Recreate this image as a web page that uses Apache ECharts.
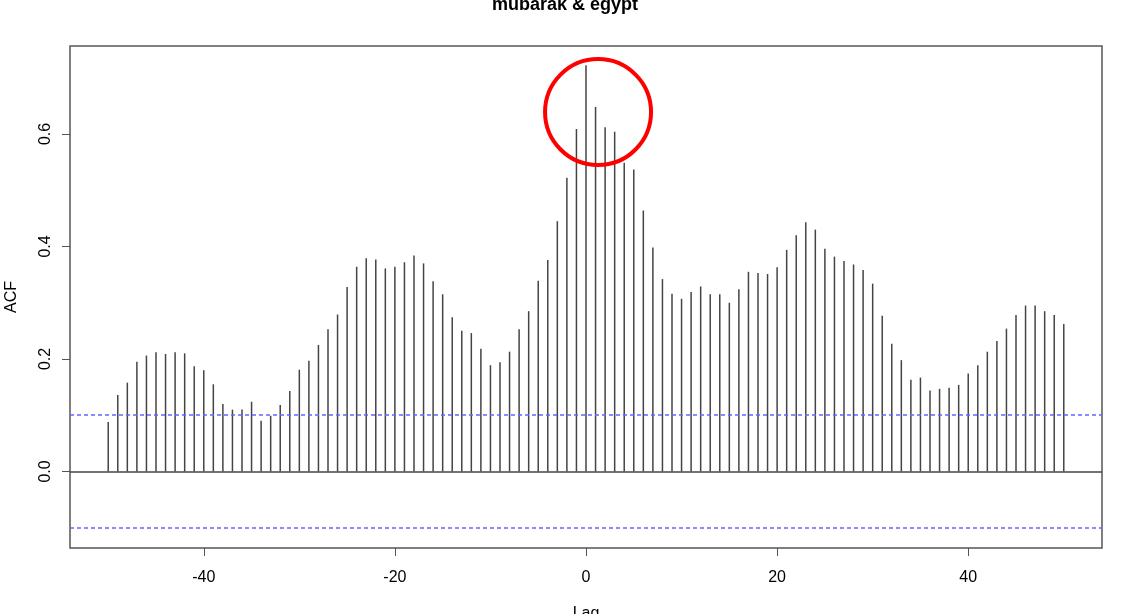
<!DOCTYPE html>
<html>
<head>
<meta charset="utf-8">
<script src="https://cdn.jsdelivr.net/npm/echarts@6/dist/echarts.min.js"></script>
<style>html,body{margin:0;padding:0;background:#fff}#c{width:1130px;height:614px}</style>
</head>
<body>
<div id="c"></div>
<script>
const lags = [];
for (let k = -50; k <= 50; k++) lags.push(k);
const acf = [
  0.088, 0.136, 0.158, 0.195, 0.206, 0.212, 0.209, 0.212, 0.210, 0.187,
  0.180, 0.155, 0.120, 0.110, 0.110, 0.124, 0.090, 0.099, 0.118, 0.143,
  0.181, 0.197, 0.225, 0.253, 0.279, 0.328, 0.364, 0.379, 0.377, 0.361,
  0.364, 0.372, 0.384, 0.370, 0.338, 0.315, 0.274, 0.250, 0.246, 0.218,
  0.189, 0.194, 0.213, 0.253, 0.285, 0.339, 0.376, 0.445, 0.522, 0.609,
  0.722,
  0.648, 0.612, 0.604, 0.549, 0.537, 0.464, 0.398, 0.342, 0.316, 0.307,
  0.319, 0.329, 0.315, 0.315, 0.300, 0.324, 0.355, 0.353, 0.351, 0.363,
  0.394, 0.420, 0.443, 0.430, 0.396, 0.382, 0.374, 0.368, 0.358, 0.334,
  0.277, 0.227, 0.198, 0.163, 0.167, 0.144, 0.147, 0.149, 0.154, 0.174,
  0.189, 0.213, 0.232, 0.254, 0.278, 0.295, 0.295, 0.285, 0.278, 0.262
];
const xTicks = [-40, -20, 0, 20, 40];
const yTicks = [0, 0.2, 0.4, 0.6];
const confLimit = 0.1035;
const titleText = 'mubarak & egypt';
const highlight = { lag: 1.26, acf: 0.639 };

const FONT = '"Liberation Sans", Arial, sans-serif';
const chart = echarts.init(document.getElementById('c'), null, { renderer: 'canvas' });
chart.setOption({
  animation: false,
  backgroundColor: '#fff',
  title: {
    text: titleText, left: 'center', top: -4, padding: 0,
    textStyle: { fontFamily: FONT, fontSize: 18, fontWeight: 'bold', color: '#000' }
  },
  grid: { left: 70, right: 28, top: 46, bottom: 66, outerBoundsMode: 'none', containLabel: false,
    show: true, borderColor: '#555', borderWidth: 1.5, backgroundColor: 'transparent' },
  xAxis: {
    type: 'value', min: -54, max: 54,
    name: 'Lag', nameLocation: 'middle', nameGap: 58,
    nameTextStyle: { fontFamily: FONT, fontSize: 16, color: '#000' },
    axisLine: { show: false, onZero: false },
    splitLine: { show: false },
    axisTick: { show: true, length: 8, customValues: xTicks, lineStyle: { color: '#555', width: 1 } },
    axisLabel: { customValues: xTicks, margin: 22, fontFamily: FONT, fontSize: 16, color: '#000' }
  },
  yAxis: {
    type: 'value', min: -0.136, max: 0.7564,
    name: 'ACF', nameLocation: 'middle', nameGap: 50,
    nameTextStyle: { fontFamily: FONT, fontSize: 16, color: '#000' },
    axisLine: { show: false, onZero: false },
    splitLine: { show: false },
    axisTick: { show: true, length: 8, customValues: yTicks, lineStyle: { color: '#555', width: 1 } },
    axisLabel: { customValues: yTicks, rotate: 90, margin: 16, fontFamily: FONT, fontSize: 16, color: '#000',
      formatter: v => v.toFixed(1) }
  },
  series: [{
    type: 'bar',
    data: lags.map((l, i) => [l, acf[i]]),
    barWidth: 1.5,
    itemStyle: { color: '#444' },
    silent: true,
    markLine: {
      silent: true, symbol: 'none', label: { show: false },
      data: [
        { yAxis: 0, lineStyle: { type: 'solid', color: '#444', width: 1.5 } },
        { yAxis: confLimit, lineStyle: { type: [4, 3], color: '#6666ff', width: 1.5 } },
        { yAxis: -confLimit, lineStyle: { type: [4, 3], color: '#6666ff', width: 1.5 } }
      ]
    }
  }]
});
const c = chart.convertToPixel({ gridIndex: 0 }, [highlight.lag, highlight.acf]);
chart.setOption({
  graphic: [{
    type: 'circle', shape: { cx: c[0], cy: c[1], r: 53 },
    style: { fill: 'none', stroke: '#ff0000', lineWidth: 4 }, z: 100, silent: true
  }]
});
</script>
</body>
</html>
